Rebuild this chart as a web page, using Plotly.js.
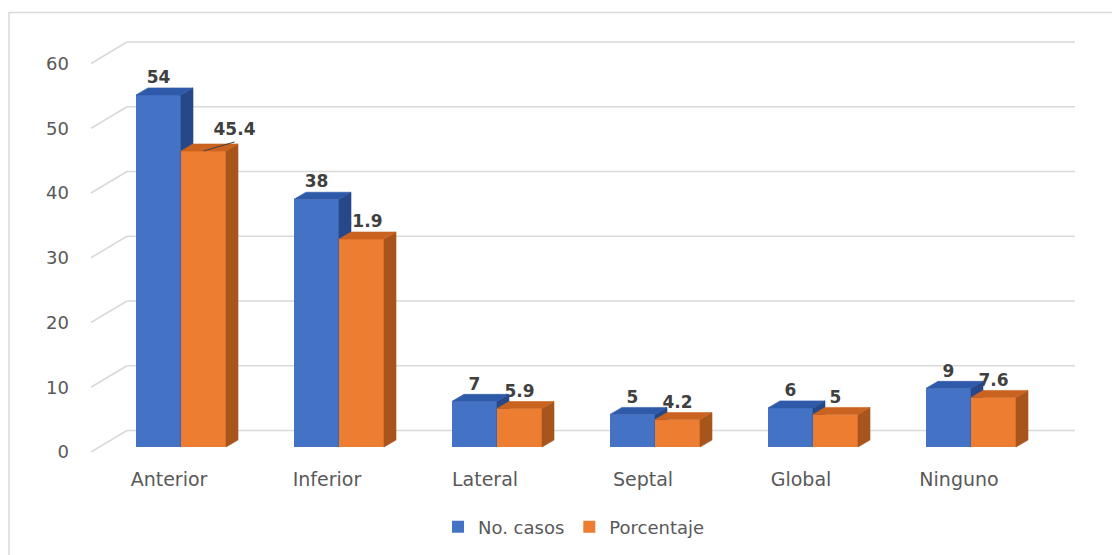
<!DOCTYPE html>
<html>
<head>
<meta charset="utf-8">
<script src="https://cdn.plot.ly/plotly-3.0.1.min.js"></script>
<style>
  html, body { margin: 0; padding: 0; background: #ffffff; }
  #chart { width: 1112px; height: 555px; }
</style>
</head>
<body>
<div id="chart"></div>
<script>
// Localización del infarto: número de casos y porcentaje
const categories = ['Anterior', 'Inferior', 'Lateral', 'Septal', 'Global', 'Ninguno'];
const casos = [54, 38, 7, 5, 6, 9];
const porcentaje = [45.4, 31.9, 5.9, 4.2, 5, 7.6];
const yTicks = [0, 10, 20, 30, 40, 50, 60];
const seriesNames = ['No. casos', 'Porcentaje'];

// ---- page geometry (pixels) ----
const W = 1112, H = 555;
const fx = p => p / W;             // pixel x -> paper fraction
const fy = p => (H - p) / H;       // pixel y -> paper fraction

const catPx = 158;                 // pixels per category
const labelAxisLeft = 90;          // left edge of the category axis domain
const barShiftPx = 12;             // bars sit a little right of the category labels
const floorFront = 452;            // front plane: value 0
const frontScale = (452 - 63.5) / 60;   // pixels per unit on the front plane
const plotTopPx = 12;              // top of the value axes' domain (room for the back wall)
const barScale = 6.52;             // pixels per unit on the bars' plane
const barZeroPx = 447;             // bars' baseline

const backDx = 36, backDy = 21.5;  // back wall offset of the gridlines
const gridRight = 1075;

const bw = 45 / catPx;             // bar width (x units)
const depthX = 12 / catPx;         // 3-D depth of the bars
const depthY = 7 / barScale;
const labelLift = 16 / barScale;   // value labels above the bar tops

const idx = categories.map((_, i) => i);

// axis ranges: the front value axis and the bars' plane share one domain
const domainPx = floorFront - plotTopPx;
const frontYr1 = domainPx / frontScale;
const barXr0 = -0.5 - barShiftPx / catPx;
const barYr0 = -(floorFront - barZeroPx) / barScale;
const barYr1 = barYr0 + domainPx / barScale;

const colors = {
  blue:   { front: '#4472c4', side: '#264788', top: '#2f5aa9' },
  orange: { front: '#ed7d31', side: '#a8551d', top: '#c9631f' }
};

// side and top faces of each bar as closed polygons in data units
function faces(values, left) {
  const side = { x: [], y: [] }, top = { x: [], y: [] };
  values.forEach((v, i) => {
    const xl = i + left, xr = xl + bw;
    side.x.push(xr, xr + depthX, xr + depthX, xr, xr, null);
    side.y.push(0, depthY, v + depthY, v, 0, null);
    top.x.push(xl, xl + depthX, xr + depthX, xr, xl, null);
    top.y.push(v, v + depthY, v + depthY, v, v, null);
  });
  return { side, top };
}

function polyTrace(poly, color, xa, ya) {
  return {
    type: 'scatter', mode: 'lines', x: poly.x, y: poly.y,
    fill: 'toself', fillcolor: color, line: { color: color, width: 0.6 },
    xaxis: xa, yaxis: ya, hoverinfo: 'skip', showlegend: false
  };
}

const labelFont = { family: 'DejaVu Sans', size: 17, color: '#404040', weight: 'bold' };

// the first percentage label is pulled to the right, with a leader line
const pctNudge = { 0: { dx: 31 / catPx, dy: 4 / barScale } };

const pctX = porcentaje.map((v, i) => i + bw / 2 + (pctNudge[i] ? pctNudge[i].dx : 0));
const pctY = porcentaje.map((v, i) => v + labelLift + (pctNudge[i] ? pctNudge[i].dy : 0));

const fb = faces(casos, -bw);
const fo = faces(porcentaje, 0);

const traces = [
  // --- No. casos (drawn first) ---
  {
    type: 'bar', name: seriesNames[0], x: idx, y: casos,
    offset: -bw, width: bw, marker: { color: colors.blue.front, line: { width: 0 } },
    xaxis: 'x2', yaxis: 'y2', hoverinfo: 'skip'
  },
  {
    type: 'scatter', mode: 'text', x: pctX, y: pctY,
    text: porcentaje.map(String), textposition: 'middle center',
    textfont: labelFont, cliponaxis: false,
    xaxis: 'x2', yaxis: 'y2', hoverinfo: 'skip', showlegend: false
  },
  polyTrace(fb.side, colors.blue.side, 'x2', 'y2'),
  polyTrace(fb.top, colors.blue.top, 'x2', 'y2'),
  {
    type: 'scatter', mode: 'text',
    x: casos.map((v, i) => i - bw / 2), y: casos.map(v => v + labelLift),
    text: casos.map(String), textposition: 'middle center',
    textfont: labelFont, cliponaxis: false,
    xaxis: 'x2', yaxis: 'y2', hoverinfo: 'skip', showlegend: false
  },
  // --- Porcentaje (in front) ---
  {
    type: 'bar', name: seriesNames[1], x: idx, y: porcentaje,
    offset: 0, width: bw, marker: { color: colors.orange.front, line: { width: 0 } },
    xaxis: 'x3', yaxis: 'y3', hoverinfo: 'skip'
  },
  polyTrace(fo.side, colors.orange.side, 'x3', 'y3'),
  polyTrace(fo.top, colors.orange.top, 'x3', 'y3'),
  {
    type: 'scatter', mode: 'lines',
    x: [bw / 2, pctX[0]],
    y: [porcentaje[0], porcentaje[0] + 9 / barScale],
    line: { color: '#404040', width: 1 },
    xaxis: 'x3', yaxis: 'y3', hoverinfo: 'skip', showlegend: false, cliponaxis: false
  }
];

// gridlines on the back wall, joined to the value axis by a short diagonal
const gridColor = '#d9d9d9';
const shapes = [];
yTicks.forEach(v => {
  shapes.push({
    type: 'line', xref: 'paper', yref: 'y', ysizemode: 'pixel', yanchor: v,
    x0: fx(labelAxisLeft + 1), x1: fx(labelAxisLeft + 1 + backDx), y0: 0, y1: backDy,
    line: { color: gridColor, width: 1.6 }, layer: 'below'
  });
  shapes.push({
    type: 'line', xref: 'paper', yref: 'y', ysizemode: 'pixel', yanchor: v,
    x0: fx(labelAxisLeft + 1 + backDx), x1: fx(gridRight), y0: backDy, y1: backDy,
    line: { color: gridColor, width: 1.6 }, layer: 'below'
  });
});
// chart area border
shapes.push({
  type: 'rect', xref: 'paper', yref: 'paper',
  x0: fx(9), x1: fx(W + 20), y0: fy(H + 20), y1: fy(12.5),
  line: { color: '#d9d9d9', width: 1.5 }, fillcolor: 'rgba(0,0,0,0)', layer: 'below'
});

const hiddenAxis = { visible: false, showgrid: false, zeroline: false, fixedrange: true };

const layout = {
  width: W, height: H,
  margin: { l: 0, r: 0, t: 0, b: 0 },
  paper_bgcolor: '#ffffff', plot_bgcolor: 'rgba(0,0,0,0)',
  font: { family: 'DejaVu Sans', color: '#595959' },
  barmode: 'overlay',
  showlegend: true,
  legend: {
    orientation: 'h', x: fx(574), xanchor: 'center', y: fy(527), yanchor: 'middle',
    font: { size: 18, color: '#595959' }, itemwidth: 30, traceorder: 'normal',
    bgcolor: 'rgba(0,0,0,0)'
  },
  xaxis: {
    domain: [fx(labelAxisLeft), fx(labelAxisLeft + catPx * 6)], range: [-0.5, 5.5],
    tickvals: idx, ticktext: categories, showgrid: false, zeroline: false, showline: false,
    ticks: '', tickfont: { size: 19, color: '#595959' }, ticklabelstandoff: 14, fixedrange: true
  },
  yaxis: {
    domain: [fy(floorFront), fy(plotTopPx)], range: [0, frontYr1],
    tickvals: yTicks, showgrid: false, zeroline: false, showline: false,
    ticks: '', tickfont: { size: 18, color: '#595959' }, ticklabelstandoff: 20, fixedrange: true
  },
  xaxis2: Object.assign({ overlaying: 'x', anchor: 'y2', range: [barXr0, barXr0 + 6] }, hiddenAxis),
  yaxis2: Object.assign({ overlaying: 'y', anchor: 'x2', range: [barYr0, barYr1] }, hiddenAxis),
  xaxis3: Object.assign({ overlaying: 'x', anchor: 'y3', range: [barXr0, barXr0 + 6] }, hiddenAxis),
  yaxis3: Object.assign({ overlaying: 'y', anchor: 'x3', range: [barYr0, barYr1] }, hiddenAxis),
  shapes: shapes
};

Plotly.newPlot('chart', traces, layout, { displayModeBar: false, staticPlot: true });
</script>
</body>
</html>
